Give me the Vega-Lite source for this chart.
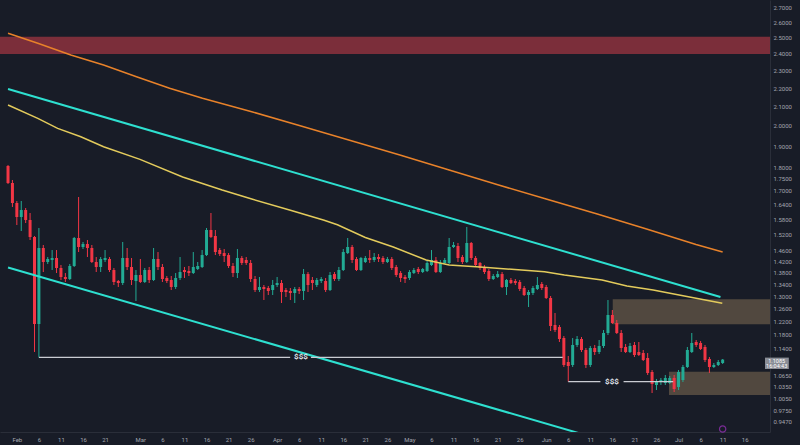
{
  "$schema": "https://vega.github.io/schema/vega-lite/v6.json",
  "description": "Daily candlestick chart, Feb to Jul, log price scale, trend channel, moving averages and marked zones",
  "width": 770,
  "height": 432,
  "padding": 0,
  "background": "#181c27",
  "config": {
    "view": {"stroke": null},
    "axis": {
      "labelFont": "Roboto",
      "labelFontSize": 6,
      "labelColor": "#a3a6af",
      "labelOverlap": false,
      "labelFlush": false,
      "grid": false,
      "ticks": false,
      "domainColor": "#2a2e39"
    }
  },
  "datasets": {
    "candles": [
      {"t": "2023-01-30", "o": 1.8073, "h": 1.8119, "l": 1.7271, "c": 1.7315},
      {"t": "2023-01-31", "o": 1.7315, "h": 1.7446, "l": 1.6297, "c": 1.6462},
      {"t": "2023-02-01", "o": 1.6462, "h": 1.6545, "l": 1.5572, "c": 1.5890},
      {"t": "2023-02-02", "o": 1.5890, "h": 1.6545, "l": 1.5338, "c": 1.6173},
      {"t": "2023-02-03", "o": 1.6173, "h": 1.6256, "l": 1.5651, "c": 1.5770},
      {"t": "2023-02-04", "o": 1.5770, "h": 1.6051, "l": 1.4993, "c": 1.5108},
      {"t": "2023-02-05", "o": 1.5108, "h": 1.5146, "l": 1.1300, "c": 1.2128},
      {"t": "2023-02-06", "o": 1.2128, "h": 1.5455, "l": 1.1150, "c": 1.4694},
      {"t": "2023-02-07", "o": 1.4694, "h": 1.4805, "l": 1.3829, "c": 1.4183},
      {"t": "2023-02-08", "o": 1.4183, "h": 1.4363, "l": 1.4112, "c": 1.4291},
      {"t": "2023-02-09", "o": 1.4255, "h": 1.4619, "l": 1.3899, "c": 1.4327},
      {"t": "2023-02-10", "o": 1.4327, "h": 1.4619, "l": 1.3794, "c": 1.3970},
      {"t": "2023-02-11", "o": 1.3970, "h": 1.4077, "l": 1.3553, "c": 1.3656},
      {"t": "2023-02-12", "o": 1.3656, "h": 1.3794, "l": 1.3485, "c": 1.3587},
      {"t": "2023-02-13", "o": 1.3587, "h": 1.4112, "l": 1.3553, "c": 1.4041},
      {"t": "2023-02-14", "o": 1.4041, "h": 1.5108, "l": 1.4006, "c": 1.5070},
      {"t": "2023-02-15", "o": 1.5070, "h": 1.6713, "l": 1.4545, "c": 1.4731},
      {"t": "2023-02-16", "o": 1.4731, "h": 1.4918, "l": 1.4656, "c": 1.4843},
      {"t": "2023-02-17", "o": 1.4843, "h": 1.4993, "l": 1.4363, "c": 1.4694},
      {"t": "2023-02-18", "o": 1.4694, "h": 1.4805, "l": 1.4148, "c": 1.4183},
      {"t": "2023-02-19", "o": 1.4183, "h": 1.4363, "l": 1.3829, "c": 1.4006},
      {"t": "2023-02-20", "o": 1.4006, "h": 1.4363, "l": 1.3829, "c": 1.4291},
      {"t": "2023-02-21", "o": 1.4255, "h": 1.4619, "l": 1.4183, "c": 1.4327},
      {"t": "2023-02-22", "o": 1.4291, "h": 1.4363, "l": 1.3829, "c": 1.3899},
      {"t": "2023-02-23", "o": 1.3899, "h": 1.3970, "l": 1.3383, "c": 1.3485},
      {"t": "2023-02-24", "o": 1.3519, "h": 1.3553, "l": 1.3316, "c": 1.3451},
      {"t": "2023-02-25", "o": 1.3451, "h": 1.4918, "l": 1.3383, "c": 1.4327},
      {"t": "2023-02-26", "o": 1.4327, "h": 1.4694, "l": 1.3899, "c": 1.4006},
      {"t": "2023-02-27", "o": 1.4006, "h": 1.4327, "l": 1.3383, "c": 1.3553},
      {"t": "2023-02-28", "o": 1.3519, "h": 1.3899, "l": 1.2853, "c": 1.3725},
      {"t": "2023-03-01", "o": 1.3725, "h": 1.4291, "l": 1.3451, "c": 1.3485},
      {"t": "2023-03-02", "o": 1.3485, "h": 1.3970, "l": 1.3451, "c": 1.3899},
      {"t": "2023-03-03", "o": 1.3899, "h": 1.4006, "l": 1.3451, "c": 1.3553},
      {"t": "2023-03-04", "o": 1.3553, "h": 1.4694, "l": 1.3519, "c": 1.4291},
      {"t": "2023-03-05", "o": 1.4291, "h": 1.4545, "l": 1.3899, "c": 1.4006},
      {"t": "2023-03-06", "o": 1.4006, "h": 1.4112, "l": 1.3485, "c": 1.3587},
      {"t": "2023-03-07", "o": 1.3622, "h": 1.3690, "l": 1.3451, "c": 1.3519},
      {"t": "2023-03-08", "o": 1.3553, "h": 1.3690, "l": 1.3215, "c": 1.3316},
      {"t": "2023-03-09", "o": 1.3316, "h": 1.3794, "l": 1.3249, "c": 1.3622},
      {"t": "2023-03-10", "o": 1.3622, "h": 1.4363, "l": 1.3553, "c": 1.3829},
      {"t": "2023-03-11", "o": 1.3899, "h": 1.4006, "l": 1.3622, "c": 1.3829},
      {"t": "2023-03-12", "o": 1.3864, "h": 1.4041, "l": 1.3690, "c": 1.3794},
      {"t": "2023-03-13", "o": 1.3794, "h": 1.4545, "l": 1.3759, "c": 1.4006},
      {"t": "2023-03-14", "o": 1.3935, "h": 1.4183, "l": 1.3899, "c": 1.4041},
      {"t": "2023-03-15", "o": 1.4006, "h": 1.4619, "l": 1.3970, "c": 1.4435},
      {"t": "2023-03-16", "o": 1.4435, "h": 1.5455, "l": 1.4399, "c": 1.5377},
      {"t": "2023-03-17", "o": 1.5377, "h": 1.6051, "l": 1.5070, "c": 1.5108},
      {"t": "2023-03-18", "o": 1.5146, "h": 1.5377, "l": 1.4435, "c": 1.4545},
      {"t": "2023-03-19", "o": 1.4619, "h": 1.4694, "l": 1.4399, "c": 1.4472},
      {"t": "2023-03-20", "o": 1.4508, "h": 1.4656, "l": 1.4183, "c": 1.4399},
      {"t": "2023-03-21", "o": 1.4435, "h": 1.4508, "l": 1.3970, "c": 1.4041},
      {"t": "2023-03-22", "o": 1.4041, "h": 1.4148, "l": 1.3656, "c": 1.3794},
      {"t": "2023-03-23", "o": 1.3794, "h": 1.4656, "l": 1.3622, "c": 1.4327},
      {"t": "2023-03-24", "o": 1.4327, "h": 1.4399, "l": 1.4077, "c": 1.4148},
      {"t": "2023-03-25", "o": 1.4255, "h": 1.4363, "l": 1.4077, "c": 1.4148},
      {"t": "2023-03-26", "o": 1.4148, "h": 1.4255, "l": 1.3485, "c": 1.3587},
      {"t": "2023-03-27", "o": 1.3587, "h": 1.3690, "l": 1.3149, "c": 1.3215},
      {"t": "2023-03-28", "o": 1.3215, "h": 1.3656, "l": 1.3149, "c": 1.3316},
      {"t": "2023-03-29", "o": 1.3316, "h": 1.3383, "l": 1.2885, "c": 1.3249},
      {"t": "2023-03-30", "o": 1.3282, "h": 1.3350, "l": 1.3049, "c": 1.3182},
      {"t": "2023-03-31", "o": 1.3215, "h": 1.3553, "l": 1.3049, "c": 1.3383},
      {"t": "2023-04-01", "o": 1.3383, "h": 1.3656, "l": 1.3316, "c": 1.3451},
      {"t": "2023-04-02", "o": 1.3451, "h": 1.3553, "l": 1.2788, "c": 1.3149},
      {"t": "2023-04-03", "o": 1.3215, "h": 1.3282, "l": 1.2983, "c": 1.3149},
      {"t": "2023-04-04", "o": 1.3182, "h": 1.3282, "l": 1.2885, "c": 1.3115},
      {"t": "2023-04-05", "o": 1.3115, "h": 1.3316, "l": 1.2788, "c": 1.3249},
      {"t": "2023-04-06", "o": 1.3249, "h": 1.3316, "l": 1.3082, "c": 1.3182},
      {"t": "2023-04-07", "o": 1.3182, "h": 1.3935, "l": 1.2885, "c": 1.3759},
      {"t": "2023-04-08", "o": 1.3759, "h": 1.3829, "l": 1.3149, "c": 1.3383},
      {"t": "2023-04-09", "o": 1.3553, "h": 1.3656, "l": 1.3215, "c": 1.3451},
      {"t": "2023-04-10", "o": 1.3383, "h": 1.3622, "l": 1.3316, "c": 1.3553},
      {"t": "2023-04-11", "o": 1.3519, "h": 1.3656, "l": 1.3451, "c": 1.3587},
      {"t": "2023-04-12", "o": 1.3519, "h": 1.3622, "l": 1.3149, "c": 1.3215},
      {"t": "2023-04-13", "o": 1.3215, "h": 1.3829, "l": 1.3182, "c": 1.3725},
      {"t": "2023-04-14", "o": 1.3759, "h": 1.3829, "l": 1.3519, "c": 1.3587},
      {"t": "2023-04-15", "o": 1.3587, "h": 1.4006, "l": 1.3519, "c": 1.3899},
      {"t": "2023-04-16", "o": 1.3899, "h": 1.4656, "l": 1.3864, "c": 1.4545},
      {"t": "2023-04-17", "o": 1.4508, "h": 1.5070, "l": 1.4472, "c": 1.4731},
      {"t": "2023-04-18", "o": 1.4731, "h": 1.4805, "l": 1.4148, "c": 1.4255},
      {"t": "2023-04-19", "o": 1.4291, "h": 1.4363, "l": 1.3864, "c": 1.3899},
      {"t": "2023-04-20", "o": 1.3899, "h": 1.4363, "l": 1.3864, "c": 1.4327},
      {"t": "2023-04-21", "o": 1.4183, "h": 1.4399, "l": 1.4148, "c": 1.4327},
      {"t": "2023-04-22", "o": 1.4327, "h": 1.4619, "l": 1.4148, "c": 1.4255},
      {"t": "2023-04-23", "o": 1.4255, "h": 1.4508, "l": 1.4183, "c": 1.4363},
      {"t": "2023-04-24", "o": 1.4363, "h": 1.4472, "l": 1.4183, "c": 1.4291},
      {"t": "2023-04-25", "o": 1.4327, "h": 1.4399, "l": 1.4112, "c": 1.4183},
      {"t": "2023-04-26", "o": 1.4183, "h": 1.4363, "l": 1.4148, "c": 1.4291},
      {"t": "2023-04-27", "o": 1.4291, "h": 1.4363, "l": 1.3899, "c": 1.3970},
      {"t": "2023-04-28", "o": 1.4006, "h": 1.4077, "l": 1.3656, "c": 1.3725},
      {"t": "2023-04-29", "o": 1.3794, "h": 1.3864, "l": 1.3485, "c": 1.3622},
      {"t": "2023-04-30", "o": 1.3656, "h": 1.3725, "l": 1.3451, "c": 1.3587},
      {"t": "2023-05-01", "o": 1.3622, "h": 1.3899, "l": 1.3553, "c": 1.3829},
      {"t": "2023-05-02", "o": 1.3794, "h": 1.3970, "l": 1.3759, "c": 1.3899},
      {"t": "2023-05-03", "o": 1.3935, "h": 1.4006, "l": 1.3759, "c": 1.3829},
      {"t": "2023-05-04", "o": 1.3829, "h": 1.3970, "l": 1.3794, "c": 1.3935},
      {"t": "2023-05-05", "o": 1.3864, "h": 1.4255, "l": 1.3829, "c": 1.4148},
      {"t": "2023-05-06", "o": 1.4077, "h": 1.4619, "l": 1.4041, "c": 1.4255},
      {"t": "2023-05-07", "o": 1.4255, "h": 1.4363, "l": 1.3794, "c": 1.3829},
      {"t": "2023-05-08", "o": 1.3829, "h": 1.4255, "l": 1.3794, "c": 1.4148},
      {"t": "2023-05-09", "o": 1.4148, "h": 1.4327, "l": 1.4112, "c": 1.4255},
      {"t": "2023-05-10", "o": 1.4148, "h": 1.5070, "l": 1.4112, "c": 1.4731},
      {"t": "2023-05-11", "o": 1.4731, "h": 1.4918, "l": 1.4694, "c": 1.4805},
      {"t": "2023-05-12", "o": 1.4768, "h": 1.4880, "l": 1.4183, "c": 1.4327},
      {"t": "2023-05-13", "o": 1.4363, "h": 1.4435, "l": 1.4112, "c": 1.4183},
      {"t": "2023-05-14", "o": 1.4183, "h": 1.5494, "l": 1.4148, "c": 1.4880},
      {"t": "2023-05-15", "o": 1.4880, "h": 1.4918, "l": 1.4255, "c": 1.4327},
      {"t": "2023-05-16", "o": 1.4327, "h": 1.4399, "l": 1.4041, "c": 1.4077},
      {"t": "2023-05-17", "o": 1.4148, "h": 1.4183, "l": 1.3899, "c": 1.3970},
      {"t": "2023-05-18", "o": 1.3970, "h": 1.4077, "l": 1.3759, "c": 1.3829},
      {"t": "2023-05-19", "o": 1.3864, "h": 1.3935, "l": 1.3519, "c": 1.3587},
      {"t": "2023-05-20", "o": 1.3587, "h": 1.3759, "l": 1.3553, "c": 1.3690},
      {"t": "2023-05-21", "o": 1.3656, "h": 1.3864, "l": 1.3622, "c": 1.3759},
      {"t": "2023-05-22", "o": 1.3759, "h": 1.3829, "l": 1.3282, "c": 1.3316},
      {"t": "2023-05-23", "o": 1.3316, "h": 1.3587, "l": 1.3049, "c": 1.3553},
      {"t": "2023-05-24", "o": 1.3553, "h": 1.3622, "l": 1.3417, "c": 1.3451},
      {"t": "2023-05-25", "o": 1.3519, "h": 1.3587, "l": 1.3383, "c": 1.3451},
      {"t": "2023-05-26", "o": 1.3485, "h": 1.3553, "l": 1.3182, "c": 1.3249},
      {"t": "2023-05-27", "o": 1.3282, "h": 1.3350, "l": 1.3016, "c": 1.3049},
      {"t": "2023-05-28", "o": 1.3049, "h": 1.3215, "l": 1.2659, "c": 1.3149},
      {"t": "2023-05-29", "o": 1.3115, "h": 1.3350, "l": 1.3049, "c": 1.3282},
      {"t": "2023-05-30", "o": 1.3249, "h": 1.3656, "l": 1.3215, "c": 1.3383},
      {"t": "2023-05-31", "o": 1.3417, "h": 1.3485, "l": 1.3215, "c": 1.3282},
      {"t": "2023-06-01", "o": 1.3316, "h": 1.3383, "l": 1.2918, "c": 1.2951},
      {"t": "2023-06-02", "o": 1.2951, "h": 1.3016, "l": 1.1915, "c": 1.2067},
      {"t": "2023-06-03", "o": 1.2097, "h": 1.2469, "l": 1.1885, "c": 1.1945},
      {"t": "2023-06-04", "o": 1.2036, "h": 1.2097, "l": 1.1589, "c": 1.1677},
      {"t": "2023-06-05", "o": 1.1706, "h": 1.1766, "l": 1.0880, "c": 1.0935},
      {"t": "2023-06-06", "o": 1.1018, "h": 1.1186, "l": 1.0484, "c": 1.0907},
      {"t": "2023-06-07", "o": 1.0935, "h": 1.1706, "l": 1.0880, "c": 1.1502},
      {"t": "2023-06-08", "o": 1.1502, "h": 1.1766, "l": 1.1444, "c": 1.1677},
      {"t": "2023-06-09", "o": 1.1677, "h": 1.1736, "l": 1.1300, "c": 1.1357},
      {"t": "2023-06-10", "o": 1.1357, "h": 1.1415, "l": 1.0853, "c": 1.0935},
      {"t": "2023-06-11", "o": 1.0935, "h": 1.1473, "l": 1.0880, "c": 1.1415},
      {"t": "2023-06-12", "o": 1.1415, "h": 1.1502, "l": 1.1215, "c": 1.1300},
      {"t": "2023-06-13", "o": 1.1300, "h": 1.1648, "l": 1.1243, "c": 1.1473},
      {"t": "2023-06-14", "o": 1.1473, "h": 1.1945, "l": 1.1415, "c": 1.1855},
      {"t": "2023-06-15", "o": 1.1855, "h": 1.2885, "l": 1.1795, "c": 1.2406},
      {"t": "2023-06-16", "o": 1.2406, "h": 1.2564, "l": 1.2128, "c": 1.2158},
      {"t": "2023-06-17", "o": 1.2158, "h": 1.2251, "l": 1.1825, "c": 1.1855},
      {"t": "2023-06-18", "o": 1.1855, "h": 1.1945, "l": 1.1300, "c": 1.1415},
      {"t": "2023-06-19", "o": 1.1444, "h": 1.1531, "l": 1.1271, "c": 1.1300},
      {"t": "2023-06-20", "o": 1.1300, "h": 1.1560, "l": 1.1271, "c": 1.1473},
      {"t": "2023-06-21", "o": 1.1502, "h": 1.1589, "l": 1.1158, "c": 1.1215},
      {"t": "2023-06-22", "o": 1.1300, "h": 1.1589, "l": 1.1186, "c": 1.1215},
      {"t": "2023-06-23", "o": 1.1271, "h": 1.1357, "l": 1.1046, "c": 1.1074},
      {"t": "2023-06-24", "o": 1.1130, "h": 1.1271, "l": 1.0663, "c": 1.0717},
      {"t": "2023-06-25", "o": 1.0744, "h": 1.0798, "l": 1.0188, "c": 1.0423},
      {"t": "2023-06-26", "o": 1.0397, "h": 1.0556, "l": 1.0266, "c": 1.0476},
      {"t": "2023-06-27", "o": 1.0476, "h": 1.0582, "l": 1.0397, "c": 1.0529},
      {"t": "2023-06-28", "o": 1.0449, "h": 1.0663, "l": 1.0397, "c": 1.0582},
      {"t": "2023-06-29", "o": 1.0449, "h": 1.0636, "l": 1.0423, "c": 1.0582},
      {"t": "2023-06-30", "o": 1.0582, "h": 1.0663, "l": 1.0214, "c": 1.0292},
      {"t": "2023-07-01", "o": 1.0344, "h": 1.0798, "l": 1.0266, "c": 1.0744},
      {"t": "2023-07-02", "o": 1.0529, "h": 1.0935, "l": 1.0476, "c": 1.0880},
      {"t": "2023-07-03", "o": 1.0880, "h": 1.1444, "l": 1.0853, "c": 1.1357},
      {"t": "2023-07-04", "o": 1.1300, "h": 1.1855, "l": 1.1271, "c": 1.1560},
      {"t": "2023-07-05", "o": 1.1589, "h": 1.1648, "l": 1.1444, "c": 1.1502},
      {"t": "2023-07-06", "o": 1.1560, "h": 1.1619, "l": 1.1357, "c": 1.1386},
      {"t": "2023-07-07", "o": 1.1444, "h": 1.1502, "l": 1.1018, "c": 1.1074},
      {"t": "2023-07-08", "o": 1.1102, "h": 1.1158, "l": 1.0717, "c": 1.0880},
      {"t": "2023-07-09", "o": 1.0880, "h": 1.0990, "l": 1.0853, "c": 1.0935},
      {"t": "2023-07-10", "o": 1.0935, "h": 1.1074, "l": 1.0907, "c": 1.1018},
      {"t": "2023-07-11", "o": 1.0990, "h": 1.1102, "l": 1.0963, "c": 1.1085}
    ],
    "maFast": [
      {"t": "2023-01-30T00:00:00Z", "p": 2.1083},
      {"t": "2023-02-05T18:00:00Z", "p": 2.0386},
      {"t": "2023-02-10T06:00:00Z", "p": 1.9878},
      {"t": "2023-02-15T12:00:00Z", "p": 1.9461},
      {"t": "2023-02-20T16:00:00Z", "p": 1.8976},
      {"t": "2023-02-28T22:00:00Z", "p": 1.8381},
      {"t": "2023-03-10T14:00:00Z", "p": 1.7579},
      {"t": "2023-03-19T13:00:00Z", "p": 1.7011},
      {"t": "2023-03-26T06:00:00Z", "p": 1.6629},
      {"t": "2023-04-04T05:00:00Z", "p": 1.6155},
      {"t": "2023-04-11T16:00:00Z", "p": 1.5760},
      {"t": "2023-04-14T16:00:00Z", "p": 1.5580},
      {"t": "2023-04-21T00:00:00Z", "p": 1.5090},
      {"t": "2023-04-27T08:00:00Z", "p": 1.4730},
      {"t": "2023-05-04T19:00:00Z", "p": 1.4255},
      {"t": "2023-05-10T00:00:00Z", "p": 1.4077},
      {"t": "2023-05-17T20:00:00Z", "p": 1.3995},
      {"t": "2023-05-24T04:00:00Z", "p": 1.3924},
      {"t": "2023-05-31T15:00:00Z", "p": 1.3840},
      {"t": "2023-06-05T03:00:00Z", "p": 1.3725},
      {"t": "2023-06-13T16:00:00Z", "p": 1.3553},
      {"t": "2023-06-19T07:00:00Z", "p": 1.3350},
      {"t": "2023-06-25T06:00:00Z", "p": 1.3215},
      {"t": "2023-07-01T03:00:00Z", "p": 1.3049},
      {"t": "2023-07-10T22:00:00Z", "p": 1.2778}
    ],
    "maSlow": [
      {"t": "2023-01-30T00:00:00Z", "p": 2.5270},
      {"t": "2023-02-05T18:00:00Z", "p": 2.4639},
      {"t": "2023-02-13T06:00:00Z", "p": 2.3921},
      {"t": "2023-02-20T16:00:00Z", "p": 2.3325},
      {"t": "2023-02-28T03:00:00Z", "p": 2.2646},
      {"t": "2023-03-07T15:00:00Z", "p": 2.1991},
      {"t": "2023-03-15T02:00:00Z", "p": 2.1443},
      {"t": "2023-03-26T06:00:00Z", "p": 2.0729},
      {"t": "2023-04-06T10:00:00Z", "p": 1.9994},
      {"t": "2023-04-17T15:00:00Z", "p": 1.9275},
      {"t": "2023-04-28T20:00:00Z", "p": 1.8582},
      {"t": "2023-05-10T00:00:00Z", "p": 1.7892},
      {"t": "2023-05-21T05:00:00Z", "p": 1.7227},
      {"t": "2023-06-01T09:00:00Z", "p": 1.6608},
      {"t": "2023-06-12T14:00:00Z", "p": 1.6010},
      {"t": "2023-06-23T18:00:00Z", "p": 1.5416},
      {"t": "2023-07-04T23:00:00Z", "p": 1.4824},
      {"t": "2023-07-11T00:00:00Z", "p": 1.4545}
    ],
    "channel": [
      {"line": "upper", "t": "2023-01-30T00:00:00Z", "p": 2.1958},
      {"line": "upper", "t": "2023-07-10T12:00:00Z", "p": 1.2983},
      {"line": "lower", "t": "2023-01-30T00:00:00Z", "p": 1.3988},
      {"line": "lower", "t": "2023-06-10T00:00:00Z", "p": 0.9159}
    ],
    "zones": [
      {"zone": "supply", "t": "2023-01-20T00:00:00Z", "t2": "2023-07-31T00:00:00Z", "p": 2.505, "p2": 2.398},
      {"zone": "upper box", "t": "2023-06-16T02:00:00Z", "t2": "2023-07-31T00:00:00Z", "p": 1.2908, "p2": 1.2119},
      {"zone": "lower box", "t": "2023-06-28T20:00:00Z", "t2": "2023-07-31T00:00:00Z", "p": 1.0752, "p2": 1.0138}
    ],
    "liquidity": [
      {"t": "2023-02-06T00:00:00Z", "t2": "2023-04-03T23:00:00Z", "p": 1.1150},
      {"t": "2023-04-08T16:00:00Z", "t2": "2023-06-04T18:00:00Z", "p": 1.1150},
      {"t": "2023-06-06T00:00:00Z", "t2": "2023-06-13T07:00:00Z", "p": 1.0484},
      {"t": "2023-06-18T13:00:00Z", "t2": "2023-06-29T19:00:00Z", "p": 1.0484}
    ],
    "liquidityLabels": [
      {"t": "2023-04-06T10:00:00Z", "p": 1.1150, "label": "$$$"},
      {"t": "2023-06-15T22:00:00Z", "p": 1.0484, "label": "$$$"}
    ]
  },
  "layer": [
    {
      "data": {"name": "zones"},
      "mark": {"type": "rect", "clip": true},
      "encoding": {
        "x": {
          "field": "t",
          "type": "temporal",
          "scale": {
            "type": "utc",
            "domain": [
              {"year": 2023, "month": 1, "date": 29, "hours": 7, "minutes": 34, "utc": true},
              {"year": 2023, "month": 7, "date": 20, "hours": 14, "minutes": 24, "utc": true}
            ]
          },
          "axis": {
            "title": null,
            "orient": "bottom",
            "labelPadding": 4,
            "labelFlush": false,
            "labelOverlap": false,
            "tickCount": 60,
            "minExtent": 13,
            "maxExtent": 13,
            "values": [
              {"year": 2023, "month": 2, "date": 1, "utc": true},
              {"year": 2023, "month": 2, "date": 6, "utc": true},
              {"year": 2023, "month": 2, "date": 11, "utc": true},
              {"year": 2023, "month": 2, "date": 16, "utc": true},
              {"year": 2023, "month": 2, "date": 21, "utc": true},
              {"year": 2023, "month": 3, "date": 1, "utc": true},
              {"year": 2023, "month": 3, "date": 6, "utc": true},
              {"year": 2023, "month": 3, "date": 11, "utc": true},
              {"year": 2023, "month": 3, "date": 16, "utc": true},
              {"year": 2023, "month": 3, "date": 21, "utc": true},
              {"year": 2023, "month": 3, "date": 26, "utc": true},
              {"year": 2023, "month": 4, "date": 1, "utc": true},
              {"year": 2023, "month": 4, "date": 6, "utc": true},
              {"year": 2023, "month": 4, "date": 11, "utc": true},
              {"year": 2023, "month": 4, "date": 16, "utc": true},
              {"year": 2023, "month": 4, "date": 21, "utc": true},
              {"year": 2023, "month": 4, "date": 26, "utc": true},
              {"year": 2023, "month": 5, "date": 1, "utc": true},
              {"year": 2023, "month": 5, "date": 6, "utc": true},
              {"year": 2023, "month": 5, "date": 11, "utc": true},
              {"year": 2023, "month": 5, "date": 16, "utc": true},
              {"year": 2023, "month": 5, "date": 21, "utc": true},
              {"year": 2023, "month": 5, "date": 26, "utc": true},
              {"year": 2023, "month": 6, "date": 1, "utc": true},
              {"year": 2023, "month": 6, "date": 6, "utc": true},
              {"year": 2023, "month": 6, "date": 11, "utc": true},
              {"year": 2023, "month": 6, "date": 16, "utc": true},
              {"year": 2023, "month": 6, "date": 21, "utc": true},
              {"year": 2023, "month": 6, "date": 26, "utc": true},
              {"year": 2023, "month": 7, "date": 1, "utc": true},
              {"year": 2023, "month": 7, "date": 6, "utc": true},
              {"year": 2023, "month": 7, "date": 11, "utc": true},
              {"year": 2023, "month": 7, "date": 16, "utc": true}
            ],
            "labelExpr": "utcdate(datum.value) == 1 ? utcFormat(datum.value, '%b') : utcFormat(datum.value, '%-d')"
          }
        },
        "x2": {"field": "t2"},
        "y": {
          "field": "p",
          "type": "quantitative",
          "scale": {"type": "log", "domain": [0.9233, 2.7486], "nice": false, "zero": false},
          "axis": {
            "title": null,
            "orient": "right",
            "format": ".4f",
            "labelAlign": "left",
            "labelBaseline": "middle",
            "labelPadding": 3,
            "labelOverlap": false,
            "labelFlush": false,
            "tickCount": 60,
            "minExtent": 30,
            "maxExtent": 30,
            "values": [0.947, 0.975, 1.005, 1.035, 1.065, 1.14, 1.18, 1.22, 1.26, 1.3, 1.34, 1.38, 1.42, 1.46, 1.52, 1.58, 1.64, 1.7, 1.75, 1.8, 1.9, 2.0, 2.1, 2.2, 2.3, 2.4, 2.5, 2.6, 2.7]
          }
        },
        "y2": {"field": "p2"},
        "color": {
          "field": "zone",
          "type": "nominal",
          "scale": {"domain": ["supply", "upper box", "lower box"], "range": ["#7b2e3a", "#51483f", "#51483f"]},
          "legend": null
        }
      }
    },
    {
      "data": {"name": "candles"},
      "mark": {"type": "rule", "strokeWidth": 1},
      "encoding": {
        "x": {"field": "t", "type": "temporal", "axis": {"title": null}},
        "y": {"field": "l", "type": "quantitative", "axis": {"title": null}},
        "y2": {"field": "h"},
        "color": {"condition": {"test": "datum.c >= datum.o", "value": "#22ab94"}, "value": "#f23645"}
      }
    },
    {
      "data": {"name": "candles"},
      "mark": {"type": "bar", "size": 3},
      "encoding": {
        "x": {"field": "t", "type": "temporal", "axis": {"title": null}},
        "y": {"field": "o", "type": "quantitative", "axis": {"title": null}},
        "y2": {"field": "c"},
        "color": {"condition": {"test": "datum.c >= datum.o", "value": "#22ab94"}, "value": "#f23645"}
      }
    },
    {
      "data": {"name": "maSlow"},
      "mark": {"type": "line", "color": "#e8822a", "strokeWidth": 1.5, "clip": true},
      "encoding": {
        "x": {"field": "t", "type": "temporal", "axis": {"title": null}},
        "y": {"field": "p", "type": "quantitative", "axis": {"title": null}}
      }
    },
    {
      "data": {"name": "maFast"},
      "mark": {"type": "line", "color": "#e3cb5c", "strokeWidth": 1.5, "clip": true},
      "encoding": {
        "x": {"field": "t", "type": "temporal", "axis": {"title": null}},
        "y": {"field": "p", "type": "quantitative", "axis": {"title": null}}
      }
    },
    {
      "data": {"name": "channel"},
      "mark": {"type": "line", "color": "#2ee0d0", "strokeWidth": 2, "clip": true},
      "encoding": {
        "x": {"field": "t", "type": "temporal", "axis": {"title": null}},
        "y": {"field": "p", "type": "quantitative", "axis": {"title": null}},
        "detail": {"field": "line", "type": "nominal"}
      }
    },
    {
      "data": {"name": "liquidity"},
      "mark": {"type": "rule", "color": "#c9ccd3", "strokeWidth": 1.3},
      "encoding": {
        "x": {"field": "t", "type": "temporal", "axis": {"title": null}},
        "x2": {"field": "t2"},
        "y": {"field": "p", "type": "quantitative", "axis": {"title": null}}
      }
    },
    {
      "data": {"name": "liquidityLabels"},
      "mark": {"type": "text", "font": "Roboto", "fontSize": 8, "fontWeight": "bold", "color": "#e0e3eb", "align": "center", "baseline": "middle"},
      "encoding": {
        "x": {"field": "t", "type": "temporal", "axis": {"title": null}},
        "y": {"field": "p", "type": "quantitative", "axis": {"title": null}},
        "text": {"field": "label"}
      }
    },
    {
      "data": {"values": [{"t": "2023-07-20T14:30:00Z", "t2": "2023-07-26T00:00:00Z", "p": 1.1141, "p2": 1.0825}]},
      "mark": {"type": "rect", "color": "#8a8d96"},
      "encoding": {
        "x": {"field": "t", "type": "temporal", "axis": {"title": null}},
        "x2": {"field": "t2"},
        "y": {"field": "p", "type": "quantitative", "axis": {"title": null}},
        "y2": {"field": "p2"}
      }
    },
    {
      "data": {"values": [
        {"t": "2023-07-23T06:00:00Z", "p": 1.1058, "label": "1.1085"},
        {"t": "2023-07-23T06:00:00Z", "p": 1.0905, "label": "16:04:43"}
      ]},
      "mark": {"type": "text", "font": "Roboto", "fontSize": 5.5, "color": "#ffffff", "align": "center", "baseline": "middle"},
      "encoding": {
        "x": {"field": "t", "type": "temporal", "axis": {"title": null}},
        "y": {"field": "p", "type": "quantitative", "axis": {"title": null}},
        "text": {"field": "label"}
      }
    },
    {
      "data": {"values": [{"t": "2023-07-11T00:00:00Z", "p": 0.9303}]},
      "mark": {"type": "point", "shape": "circle", "size": 40, "stroke": "#a233c4", "strokeWidth": 1.2, "filled": false},
      "encoding": {
        "x": {"field": "t", "type": "temporal", "axis": {"title": null}},
        "y": {"field": "p", "type": "quantitative", "axis": {"title": null}}
      }
    }
  ]
}
